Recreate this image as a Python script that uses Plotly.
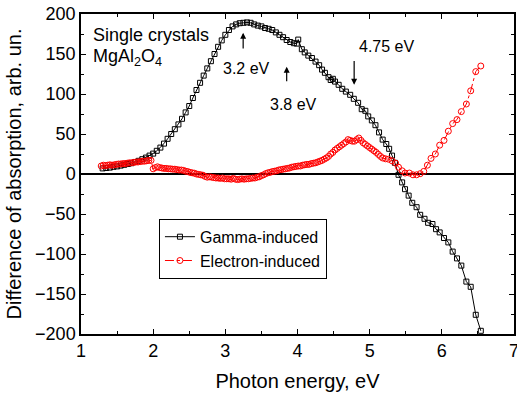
import plotly.graph_objects as go

# ---- data ----
gamma_x = [1.30, 1.35, 1.40, 1.45, 1.50, 1.55, 1.60, 1.65, 1.70, 1.75, 1.80, 1.85, 1.90, 1.95,
           2.00, 2.05, 2.10, 2.15, 2.20, 2.25, 2.30, 2.35, 2.40, 2.45, 2.50, 2.55, 2.60, 2.65,
           2.70, 2.75, 2.80, 2.85, 2.90, 2.95, 3.00, 3.05, 3.10, 3.15, 3.20, 3.25, 3.30, 3.35,
           3.40, 3.45, 3.50, 3.55, 3.60, 3.65, 3.70, 3.75, 3.80, 3.85, 3.90, 3.95, 3.99, 4.01,
           4.06, 4.10, 4.15, 4.20, 4.25, 4.30, 4.34, 4.38, 4.43, 4.46, 4.49, 4.52, 4.57, 4.62,
           4.67, 4.73, 4.78, 4.84, 4.89, 4.94, 4.98, 5.03, 5.08, 5.13, 5.18, 5.23, 5.27, 5.31,
           5.35, 5.40, 5.45, 5.49, 5.54, 5.59, 5.65, 5.70, 5.76, 5.81, 5.87, 5.92, 5.97, 6.03,
           6.09, 6.15, 6.21, 6.27, 6.34, 6.40, 6.47, 6.54]
gamma_y = [7, 7.5, 8, 9, 9.5, 10.5, 11.5, 12.5, 13.5, 15, 16.5, 18.5, 20.5, 23,
           25.5, 29, 33, 38, 44, 50, 56, 62, 69, 77, 85, 95, 105, 114,
           123, 132, 141, 150, 159, 167, 174, 180, 184.5, 187, 188.5, 189, 189.5, 189,
           187, 185.5, 184.5, 182.5, 181.5, 180, 177, 174, 171, 167.5, 165, 163.5, 163, 168,
           156, 152, 148, 145, 140.5, 136, 130.5, 126.5, 121, 117.5, 119, 115.5, 111.5, 106.5,
           103, 99, 94, 89, 81, 79, 72, 67, 61, 52, 43, 37.5, 31.5, 23,
           14, -1, -10.5, -19, -27, -36, -41.5, -51, -56, -61, -62.5, -69, -73, -80,
           -85.5, -97, -105.5, -114.5, -134.5, -141, -176, -196]

electron_x = [1.28, 1.31, 1.34, 1.37, 1.40, 1.43, 1.46, 1.49, 1.52, 1.55, 1.58, 1.61, 1.64, 1.67,
              1.70, 1.73, 1.76, 1.79, 1.82, 1.85, 1.88, 1.91, 1.94, 1.97,
              2.00, 2.03, 2.06, 2.09, 2.12, 2.15, 2.18, 2.21, 2.24, 2.27, 2.30, 2.33, 2.36, 2.39,
              2.42, 2.45, 2.48, 2.51, 2.54, 2.57, 2.60, 2.63, 2.66, 2.69, 2.72, 2.75, 2.78, 2.81,
              2.84, 2.87, 2.90, 2.93, 2.96, 2.99, 3.02, 3.05, 3.08, 3.11, 3.14, 3.17, 3.20, 3.23,
              3.26, 3.29, 3.32, 3.35, 3.38, 3.41, 3.44, 3.47, 3.50, 3.53, 3.56, 3.59, 3.62, 3.65,
              3.68, 3.71, 3.74, 3.77, 3.80, 3.83, 3.86, 3.89, 3.92, 3.95, 3.98, 4.01, 4.04, 4.07,
              4.10, 4.13, 4.16, 4.19, 4.22, 4.25, 4.28, 4.31, 4.34, 4.37, 4.40, 4.43, 4.46, 4.49,
              4.52, 4.55, 4.58, 4.61, 4.64, 4.67, 4.70, 4.73, 4.76, 4.79, 4.82, 4.85, 4.88, 4.91,
              4.94, 4.97, 5.00, 5.03, 5.06, 5.09, 5.12, 5.15, 5.18, 5.22, 5.26, 5.31, 5.36, 5.40,
              5.45, 5.49, 5.55, 5.60, 5.65, 5.70, 5.75, 5.80, 5.85, 5.91, 5.97, 6.03, 6.09, 6.15,
              6.21, 6.27, 6.34, 6.40, 6.47, 6.54]
electron_y = [10, 11, 10.5, 11, 11.5, 11, 11.5, 12, 12.5, 12.5, 13, 13, 13.5, 14,
              14, 14.5, 15, 15, 15.5, 16, 16, 16.5, 17, 17,
              6.5, 8, 9, 8, 7.5, 7, 7, 6.5, 6.5, 6, 6, 5.5, 5, 5,
              4.5, 3.5, 3, 2, 1.5, 1, 0, -0.5, -1, -1.5, -3, -4, -3.5, -4,
              -4.5, -5, -5, -5.5, -5, -6, -6, -6, -6.5, -5.5, -6.5, -7, -6.5, -6,
              -6.5, -6, -6, -5.5, -5, -5, -4, -3.5, -2, -1, 0.5, 1.5, 2, 3,
              3.5, 4, 5, 5.5, 6, 6.5, 7, 7.5, 8.5, 9, 9.5, 10, 10, 11,
              11.5, 12, 12, 13, 13.5, 14, 15, 16, 17, 18.5, 20, 22, 25, 27,
              30, 32, 34, 36, 38, 40, 43, 42, 41, 41, 43, 45, 42, 39,
              37, 35, 33, 31, 29, 27, 24.5, 22, 20, 19, 18.5, 16.5, 13.5, 8.5,
              4, 1.2, 1.2, -1, -1, 0.4, 3.3, 11, 19.5, 25, 36, 42, 53.5, 63,
              68, 78, 87.5, 104, 128, 135]

x_ticks = [1, 2, 3, 4, 5, 6, 7]
y_ticks = [200, 150, 100, 50, 0, -50, -100, -150, -200]

FONT = "Arial, 'Liberation Sans', sans-serif"

fig = go.Figure()
fig.add_trace(go.Scatter(
    x=gamma_x, y=gamma_y, name="Gamma-induced", mode="lines+markers",
    line=dict(color="black", width=1),
    marker=dict(symbol="square-open", size=5, color="black", line=dict(width=1))))
fig.add_trace(go.Scatter(
    x=electron_x, y=electron_y, name="Electron-induced", mode="lines+markers",
    line=dict(color="red", width=1, dash="dashdot"),
    marker=dict(symbol="circle-open", size=6, color="red", line=dict(width=1))))

axis_common = dict(
    showline=True, linecolor="black", linewidth=1.5, mirror="ticks",
    ticks="inside", ticklen=5, tickwidth=1, tickcolor="black",
    showgrid=False, tickfont=dict(family=FONT, size=18, color="black"),
    ticklabeloverflow="allow", automargin=False,
)

fig.update_xaxes(range=[1, 7], tickvals=x_ticks,
                 minor=dict(ticks="inside", ticklen=3, dtick=0.5, tickcolor="black"),
                 title=dict(text="Photon energy, eV", font=dict(family=FONT, size=20, color="black"),
                            standoff=14),
                 zeroline=False, **axis_common)
fig.update_yaxes(range=[-200, 200], tickvals=y_ticks,
                 minor=dict(ticks="inside", ticklen=3, dtick=25, tickcolor="black"),
                 title=dict(text="Difference of absorption, arb. un.",
                            font=dict(family=FONT, size=20, color="black"), standoff=8),
                 zeroline=True, zerolinecolor="black", zerolinewidth=2, **axis_common)

ann_font = dict(family=FONT, size=16, color="black")
annotations = [
    dict(x=1.14, y=174, text="Single crystals", showarrow=False, xanchor="left",
         font=dict(family=FONT, size=18, color="black")),
    dict(x=1.14, y=146, text="MgAl<sub>2</sub>O<sub>4</sub>", showarrow=False, xanchor="left",
         font=dict(family=FONT, size=18, color="black")),
    dict(x=3.29, y=132.5, text="3.2 eV", showarrow=False, font=ann_font),
    dict(x=3.95, y=86.6, text="3.8 eV", showarrow=False, font=ann_font),
    dict(x=5.24, y=159.5, text="4.75 eV", showarrow=False, font=ann_font),
    dict(x=3.247, y=176.6, ax=3.247, ay=155, axref="x", ayref="y", text="",
         showarrow=True, arrowhead=2, arrowsize=1, arrowwidth=1.2, arrowcolor="black"),
    dict(x=3.85, y=134, ax=3.85, ay=114, axref="x", ayref="y", text="",
         showarrow=True, arrowhead=2, arrowsize=1, arrowwidth=1.2, arrowcolor="black"),
    dict(x=4.785, y=111.6, ax=4.785, ay=143, axref="x", ayref="y", text="",
         showarrow=True, arrowhead=2, arrowsize=1, arrowwidth=1.2, arrowcolor="black"),
]

fig.update_layout(
    width=517, height=396,
    margin=dict(l=81, r=3, t=14, b=62),
    paper_bgcolor="white", plot_bgcolor="white",
    font=dict(family=FONT, color="black"),
    annotations=annotations,
    legend=dict(x=0.18, y=0.36, xanchor="left", yanchor="top",
                bordercolor="black", borderwidth=1, bgcolor="white",
                font=dict(family=FONT, size=16, color="black"),
                tracegroupgap=0, itemwidth=30),
)

fig.write_html("out.html")
